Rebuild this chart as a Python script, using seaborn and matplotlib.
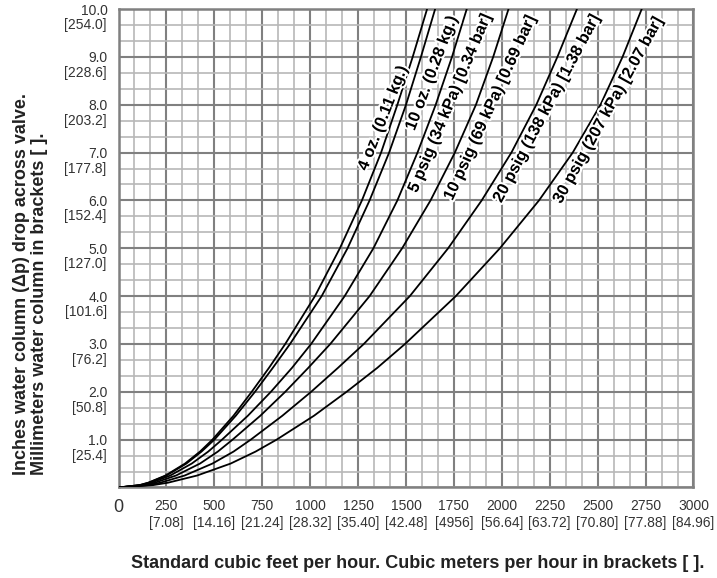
import matplotlib
matplotlib.use("Agg")
import matplotlib.pyplot as plt
import matplotlib.transforms as mtransforms
import matplotlib.patheffects as pe
from matplotlib.ticker import MultipleLocator
import pandas as pd
import seaborn as sns

# --- chart data ---
dp_levels = [0, 0.05, 0.1, 0.25, 0.5, 0.75, 1, 1.5, 2, 2.5, 3, 4, 5, 6, 7, 8, 9, 10]

flow_4oz = [0, 110, 155, 245, 347, 425, 490, 600, 695, 785, 870, 1025, 1155, 1270, 1370, 1455, 1535, 1610]
flow_10oz = [0, 112, 158, 250, 354, 433, 500, 612, 712, 805, 895, 1060, 1195, 1310, 1412, 1500, 1578, 1652]
flow_5psig = [0, 121, 171, 270, 382, 468, 540, 675, 795, 905, 1005, 1180, 1330, 1455, 1560, 1655, 1740, 1817]
flow_10psig = [0, 134, 190, 300, 425, 518, 595, 740, 870, 990, 1105, 1310, 1480, 1628, 1755, 1865, 1955, 2035]
flow_20psig = [0, 154, 218, 345, 490, 600, 690, 855, 1005, 1145, 1280, 1520, 1720, 1895, 2050, 2180, 2290, 2392]
flow_30psig = [0, 181, 258, 410, 585, 715, 825, 1020, 1190, 1350, 1495, 1760, 1990, 2194, 2370, 2515, 2630, 2730]

curve_names = [
    "4 oz. (0.11 kg.)",
    "10 oz. (0.28 kg.)",
    "5 psig (34 kPa) [0.34 bar]",
    "10 psig (69 kPa) [0.69 bar]",
    "20 psig (138 kPa) [1.38 bar]",
    "30 psig (207 kPa) [2.07 bar]",
]
curve_flows = [flow_4oz, flow_10oz, flow_5psig, flow_10psig, flow_20psig, flow_30psig]

x_ticks = [0, 250, 500, 750, 1000, 1250, 1500, 1750, 2000, 2250, 2500, 2750, 3000]
x_metric = ["", "[7.08]", "[14.16]", "[21.24]", "[28.32]", "[35.40]", "[42.48]",
            "[4956]", "[56.64]", "[63.72]", "[70.80]", "[77.88]", "[84.96]"]
y_ticks = [1, 2, 3, 4, 5, 6, 7, 8, 9, 10]
y_metric = ["[25.4]", "[50.8]", "[76.2]", "[101.6]", "[127.0]", "[152.4]",
            "[177.8]", "[203.2]", "[228.6]", "[254.0]"]

# where the curve names sit (flow, dp) and their slant on screen
label_spots = [(1380, 7.72), (1634, 8.66), (1729, 8.03), (1938, 7.93), (2234, 7.92), (2554, 7.88)]
label_angles = [68.5, 69.3, 67.2, 65.5, 62.0, 61.0]

rows = []
for name, flows in zip(curve_names, curve_flows):
    for f, d in zip(flows, dp_levels):
        rows.append({"flow": f, "dp": d, "curve": name})
df = pd.DataFrame(rows)

sns.set_theme(style="white")
plt.rcParams["font.family"] = ["Liberation Sans", "DejaVu Sans"]

fig = plt.figure(figsize=(7.17, 5.78), dpi=100)
ax = fig.add_axes([0.1653, 0.1566, 0.8019, 0.8278])

sns.lineplot(data=df, x="flow", y="dp", hue="curve", palette=["black"] * 6,
             sort=False, estimator=None, legend=False, linewidth=1.3, ax=ax, zorder=3)

ax.set_xlim(0, 3000)
ax.set_ylim(0, 10)

# graph-paper grid
ax.xaxis.set_minor_locator(MultipleLocator(250 / 3))
ax.yaxis.set_minor_locator(MultipleLocator(1 / 3))
ax.grid(which="minor", color="#b8b8b8", linewidth=1.2)
ax.grid(which="major", color="#808080", linewidth=1.5)
ax.set_axisbelow(True)
for s in ax.spines.values():
    s.set_color("#808080")
    s.set_linewidth(1.8)

ax.set_xticks(x_ticks)
ax.set_xticklabels([str(t) if t == 0 else f"{t}\n{m}" for t, m in zip(x_ticks, x_metric)],
                   linespacing=1.3)
ax.set_yticks(y_ticks)
ax.set_yticklabels([f"{t:.1f}" for t in y_ticks])
ax.tick_params(which="major", direction="out", length=5, width=1.5, color="#808080",
               labelsize=10, labelcolor="#333333", pad=3)
ax.tick_params(which="minor", length=0)
ax.get_xticklabels()[0].set_fontsize(13)

offset = mtransforms.ScaledTranslation(-8.5 / 72, -11.5 / 72, fig.dpi_scale_trans)
for t, m in zip(y_ticks, y_metric):
    ax.text(0, t, m, transform=ax.get_yaxis_transform() + offset, ha="right",
            va="center", fontsize=10, color="#333333")

ax.set_xlabel("")
ax.set_ylabel("")

for name, (fx, fy), ang in zip(curve_names, label_spots, label_angles):
    ax.text(fx, fy, name, rotation=ang, rotation_mode="anchor", ha="center", va="center",
            fontsize=11.8, fontweight="bold", color="black", zorder=4,
            path_effects=[pe.withStroke(linewidth=3, foreground="white")])

fig.text(0.582, 1 - 563 / 578, "Standard cubic feet per hour. Cubic meters per hour in brackets [ ].",
         ha="center", va="center", fontsize=13, fontweight="bold", color="#222222")
fig.text(0.0425, 1 - 475 / 578,
         "Inches water column (\u0394p) drop across valve.\nMillimeters water column in brackets [ ].",
         rotation=90, ha="center", va="bottom", multialignment="left",
         fontsize=13, fontweight="bold", color="#222222", linespacing=1.1)

fig.savefig("out.png", dpi=100)
